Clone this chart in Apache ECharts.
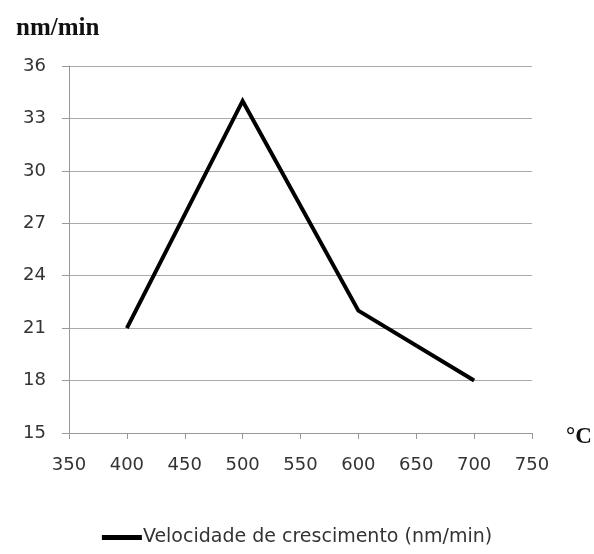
<!DOCTYPE html>
<html>
<head>
<meta charset="utf-8">
<script src="https://cdn.jsdelivr.net/npm/echarts@6/dist/echarts.min.js"></script>
<style>
  html, body { margin: 0; padding: 0; background: #fff; }
  #chart { width: 594px; height: 554px; }
</style>
</head>
<body>
<div id="chart"></div>
<script>
// temperatura (°C) e velocidade de crescimento (nm/min)
const temps = [400, 500, 600, 700]
const rates = [21, 34, 22, 18]
const seriesName = 'Velocidade de crescimento (nm/min)'

const chart = echarts.init(document.getElementById('chart'))

chart.setOption({
  backgroundColor: '#fff',
  animation: false,
  grid: { left: 69, right: 62, top: 66, bottom: 121 },
  title: [
    {
      text: 'nm/min', left: 11, top: 11,
      textStyle: { fontFamily: 'Liberation Serif', fontWeight: 'bold', fontSize: 25, color: '#111' }
    },
    {
      text: '°C', left: 561, top: 421,
      textStyle: { fontFamily: 'Liberation Serif', fontWeight: 'bold', fontSize: 23, color: '#111' }
    }
  ],
  legend: {
    bottom: 2,
    left: 'center',
    itemWidth: 40,
    itemHeight: 5,
    itemGap: 2,
    icon: 'rect',
    textStyle: { fontFamily: 'DejaVu Sans', fontSize: 19, color: '#333', padding: [0, 0, 0, -4] },
    data: [seriesName]
  },
  xAxis: {
    type: 'value',
    min: 350, max: 750, interval: 50,
    axisLine: { show: true, lineStyle: { color: '#999', width: 1 } },
    axisTick: { show: true, length: 6, lineStyle: { color: '#999' } },
    splitLine: { show: false },
    axisLabel: { fontFamily: 'DejaVu Sans', fontSize: 18, color: '#333', margin: 23 }
  },
  yAxis: {
    type: 'value',
    min: 15, max: 36, interval: 3,
    axisLine: { show: true, lineStyle: { color: '#999', width: 1 } },
    axisTick: { show: true, length: 7, lineStyle: { color: '#999' } },
    splitLine: { show: true, lineStyle: { color: '#aaa', width: 1 } },
    axisLabel: { fontFamily: 'DejaVu Sans', fontSize: 18, color: '#333', margin: 23 }
  },
  series: [{
    name: seriesName,
    type: 'line',
    data: temps.map((t, i) => [t, rates[i]]),
    showSymbol: false,
    symbol: 'none',
    lineStyle: { color: '#000', width: 4, join: 'miter' },
    itemStyle: { color: '#000' }
  }]
})
</script>
</body>
</html>
